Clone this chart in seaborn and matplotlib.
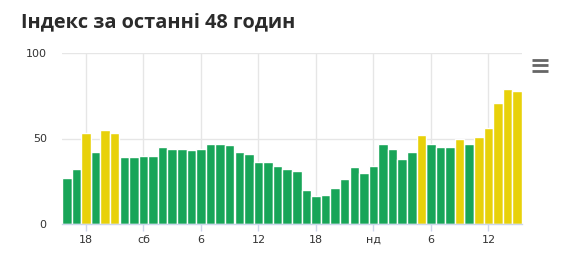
import matplotlib
matplotlib.use("Agg")
import matplotlib.pyplot as plt
import seaborn as sns
import pandas as pd
from matplotlib.lines import Line2D

values = [27, 32, 53, 42, 55, 53, 39, 39, 40, 40, 45, 44, 44, 43, 44, 47,
          47, 46, 42, 41, 36, 36, 34, 32, 31, 20, 16, 17, 21, 26, 33, 30,
          34, 47, 44, 38, 42, 52, 47, 45, 45, 50, 47, 51, 56, 71, 79, 78]
levels = ["g", "g", "y", "g", "y", "y", "g", "g", "g", "g", "g", "g", "g", "g", "g", "g",
          "g", "g", "g", "g", "g", "g", "g", "g", "g", "g", "g", "g", "g", "g", "g", "g",
          "g", "g", "g", "g", "g", "y", "g", "g", "g", "y", "g", "y", "y", "y", "y", "y"]
tick_positions = [2, 8, 14, 20, 26, 32, 38, 44]
tick_labels = ["18", "сб", "6", "12", "18", "нд", "6", "12"]
y_ticks = [0, 50, 100]
title = "Індекс за останні 48 годин"

palette = {"g": "#18a558", "y": "#e8d10a"}

sns.set_theme(style="white")
plt.rcParams['font.family'] = ['DejaVu Sans']

df = pd.DataFrame({"hour": list(range(len(values))), "value": values, "level": levels})

fig = plt.figure(figsize=(5.73, 2.58), dpi=100)
ax = fig.add_axes([62/573, 34.3/258, 460/573, 170.4/258])
sns.barplot(data=df, x="hour", y="value", hue="level", palette=palette, dodge=False,
            saturation=1, width=1.0, edgecolor="white", linewidth=1.0, ax=ax,
            legend=False, zorder=3)

ax.set_xlim(-0.5, len(values) - 0.5)
ax.set_ylim(0, 100)
ax.set_yticks(y_ticks)
ax.set_yticklabels([str(v) for v in y_ticks])
ax.set_xticks(tick_positions)
ax.set_xticklabels(tick_labels)
ax.set_xlabel("")
ax.set_ylabel("")

for s in ["top", "right", "left"]:
    ax.spines[s].set_visible(False)
ax.spines["bottom"].set_color("#ccd6eb")
ax.spines["bottom"].set_linewidth(1)
ax.spines["bottom"].set_zorder(4)

ax.grid(True, axis="both", color="#e6e6e6", linewidth=1, zorder=0)
ax.set_axisbelow(True)
ax.tick_params(axis="y", length=0, pad=11, labelsize=8, labelcolor="#333333")
ax.tick_params(axis="x", length=5, width=1, color="#ccd6eb", direction="out",
               pad=3, labelsize=8, labelcolor="#333333", bottom=True)

fig.text(21/573, 1 - 22/258, title, fontsize=14.3, fontweight="bold",
         color="#2b2b2b", ha="left", va="center", family=["Open Sans", "DejaVu Sans"])

for yy in [60, 65, 70.5]:
    fig.add_artist(Line2D([532/573, 548/573], [1 - yy/258, 1 - yy/258],
                          color="#666666", linewidth=2, solid_capstyle="butt"))

fig.savefig("out.png", dpi=100)
